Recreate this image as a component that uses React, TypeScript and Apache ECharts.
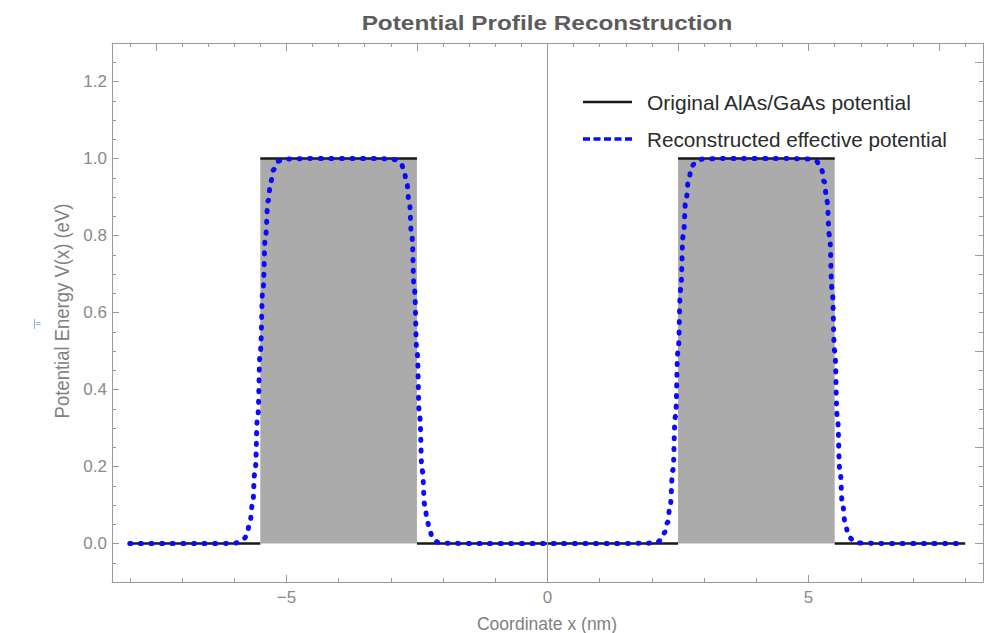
import React, { useEffect, useRef } from "react";
import * as echarts from "echarts";

// ---- data ----
const barrierRanges: number[][] = [
  [-5.5, -2.5],
  [2.5, 5.5],
];
const barrierHeight = 1;

// step potential (gaps at discontinuities, as in the reference)
const originalPotential: (number | null)[][] = [
  [-8, 0], [-5.5, 0], [-5.5, null],
  [-5.5, 1], [-2.5, 1], [-2.5, null],
  [-2.5, 0], [2.5, 0], [2.5, null],
  [2.5, 1], [5.5, 1], [5.5, null],
  [5.5, 0], [8, 0],
];

// smooth reconstructed potential
const reconstructedPotential: number[][] = [
  [-8, 0], [-7, 0], [-6.5, 0], [-6.2, 0], [-6, 0.001],
  [-5.9, 0.003], [-5.85, 0.007], [-5.8, 0.014], [-5.75, 0.03], [-5.7, 0.055],
  [-5.65, 0.1], [-5.6, 0.19], [-5.55, 0.33], [-5.5, 0.5], [-5.45, 0.66],
  [-5.4, 0.8], [-5.35, 0.89], [-5.3, 0.94], [-5.25, 0.97], [-5.2, 0.985],
  [-5.15, 0.993], [-5.1, 0.997], [-5, 0.999], [-4.5, 1], [-4, 1], [-3.5, 1], [-3, 0.999],
  [-2.9, 0.997], [-2.85, 0.993], [-2.8, 0.985], [-2.75, 0.97], [-2.7, 0.94],
  [-2.65, 0.89], [-2.6, 0.8], [-2.55, 0.66], [-2.5, 0.5], [-2.45, 0.33],
  [-2.4, 0.19], [-2.35, 0.1], [-2.3, 0.055], [-2.25, 0.03], [-2.2, 0.014],
  [-2.15, 0.007], [-2.1, 0.003], [-2, 0.001], [-1.5, 0], [-1, 0], [-0.5, 0],
  [0, 0], [0.5, 0], [1, 0], [1.5, 0], [2, 0.001],
  [2.1, 0.003], [2.15, 0.007], [2.2, 0.014], [2.25, 0.03], [2.3, 0.055],
  [2.35, 0.1], [2.4, 0.19], [2.45, 0.33], [2.5, 0.5], [2.55, 0.66],
  [2.6, 0.8], [2.65, 0.89], [2.7, 0.94], [2.75, 0.97], [2.8, 0.985],
  [2.85, 0.993], [2.9, 0.997], [3, 0.999], [3.5, 1], [4, 1], [4.5, 1], [5, 0.999],
  [5.1, 0.997], [5.15, 0.993], [5.2, 0.985], [5.25, 0.97], [5.3, 0.94],
  [5.35, 0.89], [5.4, 0.8], [5.45, 0.66], [5.5, 0.5], [5.55, 0.33],
  [5.6, 0.19], [5.65, 0.1], [5.7, 0.055], [5.75, 0.03], [5.8, 0.014],
  [5.85, 0.007], [5.9, 0.003], [6, 0.001], [6.5, 0], [7, 0], [7.5, 0], [8, 0],
];

// axis ranges and ticks
const xRange = [-8.34, 8.34];
const yRange = [-0.1, 1.3];
const xLabelValues = [-5, 0, 5];
const xBottomMinor = [-8, -7, -6, -5, -4, -3, -2, -1, 0, 1, 2, 3, 4, 5, 6, 7, 8];
const xTopMajor = [-7.5, -5, -2.5, 0, 2.5, 5, 7.5];
const xTopMinor = [-8, -7.5, -7, -6.5, -6, -5.5, -5, -4.5, -4, -3.5, -3, -2.5, -2, -1.5, -1, -0.5, 0, 0.5, 1, 1.5, 2, 2.5, 3, 3.5, 4, 4.5, 5, 5.5, 6, 6.5, 7, 7.5, 8];
const yLabelValues = [0, 0.2, 0.4, 0.6, 0.8, 1.0, 1.2];
const yMinor = [-0.1, -0.05, 0, 0.05, 0.1, 0.15, 0.2, 0.25, 0.3, 0.35, 0.4, 0.45, 0.5, 0.55, 0.6, 0.65, 0.7, 0.75, 0.8, 0.85, 0.9, 0.95, 1.0, 1.05, 1.1, 1.15, 1.2, 1.25, 1.3];
const yRightMajor = [0, 0.25, 0.5, 0.75, 1.0, 1.25];

const titleText = "Potential Profile Reconstruction";
const xName = "Coordinate x (nm)";
const yName = "Potential Energy V(x) (eV)";
const legendNames = ["Original AlAs/GaAs potential", "Reconstructed effective potential"];

const FONT = "'Liberation Sans', Arial, sans-serif";
const FRAME = "#9a9a9a";
const LABEL = "#8a8a8a";

function makeXAxis(position: string, ticks: number[], len: number, labels: number[] | null, showLine: boolean) {
  return {
    type: "value",
    position,
    min: xRange[0],
    max: xRange[1],
    splitLine: { show: false },
    axisLine: { show: showLine, onZero: false, lineStyle: { color: FRAME, width: 1 } },
    axisTick: { show: true, inside: true, length: len, customValues: ticks, lineStyle: { color: FRAME, width: 1 } },
    axisLabel: labels
      ? {
          show: true,
          customValues: labels,
          margin: 7,
          color: LABEL,
          fontSize: 17,
          fontFamily: FONT,
          formatter: (v: number) => (v < 0 ? "\u2212" + Math.abs(v) : String(v)),
        }
      : { show: false },
  };
}

function makeYAxis(position: string, ticks: number[], len: number, labels: number[] | null, showLine: boolean) {
  return {
    type: "value",
    position,
    min: yRange[0],
    max: yRange[1],
    splitLine: { show: false },
    axisLine: { show: showLine, onZero: false, lineStyle: { color: FRAME, width: 1 } },
    axisTick: { show: true, inside: true, length: len, customValues: ticks, lineStyle: { color: FRAME, width: 1 } },
    axisLabel: labels
      ? {
          show: true,
          customValues: labels,
          margin: 5,
          color: LABEL,
          fontSize: 17,
          fontFamily: FONT,
          formatter: (v: number) => v.toFixed(1),
        }
      : { show: false },
  };
}

export default function App() {
  const ref = useRef<HTMLDivElement>(null);

  useEffect(() => {
    document.body.style.margin = "0";
    if (!ref.current) return;
    const chart = echarts.init(ref.current, undefined, { renderer: "svg" });

    const option: any = {
      animation: false,
      backgroundColor: "#ffffff",
      grid: { left: 112, right: 11, top: 43, bottom: 51, containLabel: false },
      xAxis: [
        makeXAxis("bottom", xBottomMinor, 4, xLabelValues, true),
        makeXAxis("bottom", xLabelValues, 7, null, false),
        makeXAxis("top", xTopMinor, 4, null, true),
        makeXAxis("top", xTopMajor, 8, null, false),
      ],
      yAxis: [
        makeYAxis("left", yMinor, 4, yLabelValues, true),
        makeYAxis("left", yLabelValues, 7, null, false),
        makeYAxis("right", yMinor, 4, null, true),
        makeYAxis("right", yRightMajor, 8, null, false),
      ],
      series: [
        {
          type: "line",
          name: "fill",
          xAxisIndex: 0,
          yAxisIndex: 0,
          data: [],
          z: 1,
          silent: true,
          markArea: {
            silent: true,
            itemStyle: { color: "#ababab", opacity: 1 },
            data: barrierRanges.map((r) => [
              { xAxis: r[0], yAxis: 0 },
              { xAxis: r[1], yAxis: barrierHeight },
            ]),
          },
          markLine: {
            silent: true,
            symbol: ["none", "none"],
            label: { show: false },
            lineStyle: { color: "#999999", width: 1, type: "solid" },
            data: [{ xAxis: 0 }],
          },
        },
        {
          type: "line",
          name: legendNames[0],
          xAxisIndex: 0,
          yAxisIndex: 0,
          data: originalPotential,
          z: 2,
          symbol: "none",
          connectNulls: false,
          lineStyle: { color: "#1a1a1a", width: 2.5 },
        },
        {
          type: "line",
          name: legendNames[1],
          xAxisIndex: 0,
          yAxisIndex: 0,
          data: reconstructedPotential,
          z: 3,
          symbol: "none",
          smooth: true,
          smoothMonotone: "x",
          lineStyle: { color: "#0a0aff", width: 5, type: [1.2, 9.4], cap: "round" },
        },
      ],
      graphic: [
        {
          type: "text",
          x: 547,
          y: 23,
          scaleX: 1.16,
          style: {
            text: titleText,
            fontSize: 21,
            fontWeight: "bold",
            fontFamily: FONT,
            fill: "#5c5c5c",
            textAlign: "center",
            textVerticalAlign: "middle",
          },
        },
        {
          type: "text",
          x: 547,
          y: 623.5,
          style: {
            text: xName,
            fontSize: 17.5,
            fontFamily: FONT,
            fill: "#808080",
            textAlign: "center",
            textVerticalAlign: "middle",
          },
        },
        {
          type: "text",
          x: 62,
          y: 311,
          rotation: Math.PI / 2,
          scaleY: 1.1,
          style: {
            text: yName,
            fontSize: 18.5,
            fontFamily: FONT,
            fill: "#808080",
            textAlign: "center",
            textVerticalAlign: "middle",
          },
        },
        {
          type: "line",
          shape: { x1: 583, y1: 102, x2: 632, y2: 102 },
          style: { stroke: "#1a1a1a", lineWidth: 2.5 },
        },
        {
          type: "text",
          x: 647,
          y: 102,
          style: {
            text: legendNames[0],
            fontSize: 21,
            fontFamily: FONT,
            fill: "#2b2b2b",
            textAlign: "left",
            textVerticalAlign: "middle",
          },
        },
        {
          type: "line",
          shape: { x1: 583, y1: 139, x2: 632, y2: 139 },
          style: { stroke: "#0a0aff", lineWidth: 3.5, lineDash: [7, 3.5] },
        },
        {
          type: "text",
          x: 647,
          y: 139,
          style: {
            text: legendNames[1],
            fontSize: 20.7,
            fontFamily: FONT,
            fill: "#2b2b2b",
            textAlign: "left",
            textVerticalAlign: "middle",
          },
        },
        // small stray mark near the y-axis title in the reference
        {
          type: "line",
          shape: { x1: 34.5, y1: 319, x2: 34.5, y2: 329 },
          style: { stroke: "#8fb0d8", lineWidth: 1 },
        },
        {
          type: "line",
          shape: { x1: 36, y1: 322.5, x2: 40.5, y2: 322.5 },
          style: { stroke: "#8fb0d8", lineWidth: 1 },
        },
        {
          type: "line",
          shape: { x1: 36, y1: 324.5, x2: 40.5, y2: 324.5 },
          style: { stroke: "#8fb0d8", lineWidth: 1 },
        },
      ],
    };

    chart.setOption(option);
    return () => chart.dispose();
  }, []);

  return <div ref={ref} style={{ width: 994, height: 633 }} />;
}
